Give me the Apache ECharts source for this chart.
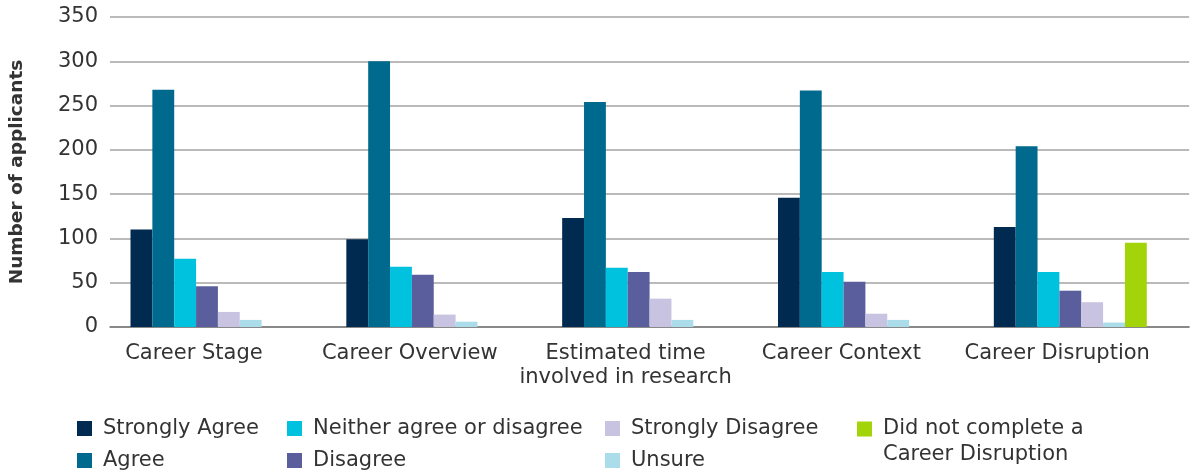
<!DOCTYPE html>
<html>
<head>
<meta charset="utf-8">
<script src="https://cdn.jsdelivr.net/npm/echarts@6/dist/echarts.min.js"></script>
<style>
  html, body { margin: 0; padding: 0; background: #fff; }
  #chart { width: 1200px; height: 473px; }
</style>
</head>
<body>
<div id="chart"></div>
<script>
// categories along the x axis
const categories = ['Career Stage', 'Career Overview', 'Estimated time\ninvolved in research', 'Career Context', 'Career Disruption']
const yTicks = { min: 0, max: 350, interval: 50 }

// answers per category (number of applicants)
const stronglyAgree = [110, 99, 123, 146, 113]
const agree = [268, 300, 254, 267, 204]
const neither = [77, 68, 67, 62, 62]
const disagree = [46, 59, 62, 51, 41]
const stronglyDisagree = [17, 14, 32, 15, 28]
const unsure = [8, 6, 8, 8, 5]
const didNotComplete = [0, 0, 0, 0, 95]

const seriesNames = [
  'Strongly Agree', 'Agree', 'Neither agree or disagree', 'Disagree',
  'Strongly Disagree', 'Unsure', 'Did not complete a Career Disruption'
]
const seriesData = [stronglyAgree, agree, neither, disagree, stronglyDisagree, unsure, didNotComplete]
const colors = ['#002a4f', '#006a8e', '#00c1de', '#5b5e9c', '#c8c3e0', '#aadde9', '#a3d309']

const font = 'DejaVu Sans'
const textColor = '#333'

let chart = echarts.init(document.getElementById('chart'))

let series = seriesNames.map((name, i) => ({
  name: name,
  type: 'bar',
  data: seriesData[i],
  barGap: 0,
  barCategoryGap: '19%',
  itemStyle: { color: colors[i] },
}))
// the original chart reserves room for one more (empty) bar slot per group
series.push({ name: 'spacer', type: 'bar', data: [], barGap: 0, barCategoryGap: '19%' })

function legendCol(left, top, names, extra) {
  return Object.assign({
    orient: 'vertical',
    left: left,
    top: top,
    data: names,
    icon: 'rect',
    itemWidth: 15,
    itemHeight: 15,
    itemGap: 11,
    padding: 0,
    selectedMode: false,
    textStyle: {
      fontFamily: font,
      fontSize: 21,
      color: textColor,
      lineHeight: 21,
      padding: [0, 0, 0, 6],
    },
  }, extra || {})
}

chart.setOption({
  animation: false,
  color: colors,
  grid: { left: 110, right: 2, top: 17, bottom: 146 },
  xAxis: {
    type: 'category',
    data: categories,
    axisTick: { show: false },
    axisLine: { lineStyle: { color: '#7a7a7a', width: 1.5 } },
    axisLabel: {
      interval: 0,
      margin: 15,
      fontFamily: font,
      fontSize: 21,
      color: textColor,
      lineHeight: 24,
      padding: [0, 48, 0, 0],
    },
  },
  yAxis: {
    type: 'value',
    min: yTicks.min,
    max: yTicks.max,
    interval: yTicks.interval,
    name: 'Number of applicants',
    nameLocation: 'middle',
    nameGap: 83,
    nameTextStyle: { fontFamily: font, fontSize: 18.5, fontWeight: 'bold', color: textColor },
    axisLabel: { margin: 12, fontFamily: font, fontSize: 21, color: textColor },
    splitLine: { lineStyle: { color: '#a3a3a3', width: 1.5 } },
  },
  legend: [
    legendCol(77, 418, ['Strongly Agree', 'Agree']),
    legendCol(287, 418, ['Neither agree or disagree', 'Disagree']),
    legendCol(605, 418, ['Strongly Disagree', 'Unsure']),
    // blank first line so the icon lines up with the first line of text
    legendCol(857, 390, ['Did not complete a Career Disruption'], {
      formatter: () => '\nDid not complete a\nCareer Disruption',
      textStyle: {
        fontFamily: font,
        fontSize: 21,
        color: textColor,
        lineHeight: 26,
        padding: [0, 0, 0, 6],
      },
    }),
  ],
  series: series,
})
</script>
</body>
</html>
